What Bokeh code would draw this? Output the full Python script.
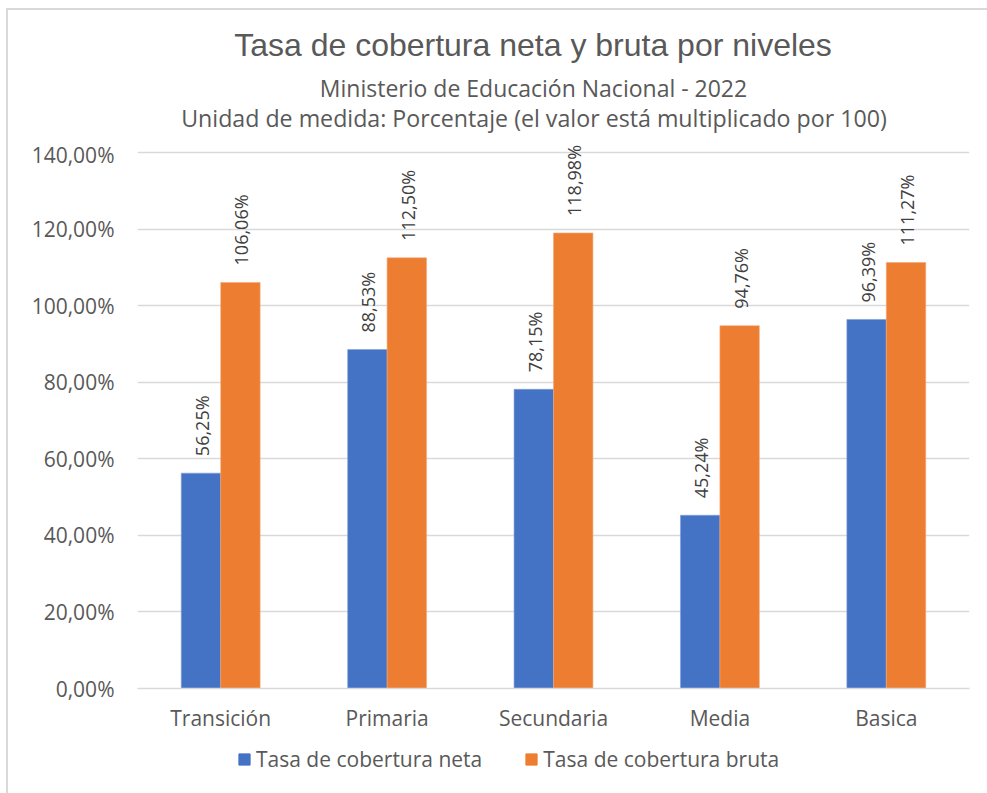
import math
from bokeh.plotting import figure
from bokeh.layouts import column
from bokeh.core.properties import value
from bokeh.models import (ColumnDataSource, FactorRange, Range1d, FixedTicker, Label,
                          Legend, LegendItem)
from bokeh.transform import dodge
from bokeh.embed import file_html
from bokeh.resources import INLINE

categories = ["Transición", "Primaria", "Secundaria", "Media", "Basica"]
neta = [56.25, 88.53, 78.15, 45.24, 96.39]
bruta = [106.06, 112.50, 118.98, 94.76, 111.27]
neta_labels = ["56,25%", "88,53%", "78,15%", "45,24%", "96,39%"]
bruta_labels = ["106,06%", "112,50%", "118,98%", "94,76%", "111,27%"]
y_ticks = [0, 20, 40, 60, 80, 100, 120, 140]
y_tick_labels = ["0,00%", "20,00%", "40,00%", "60,00%", "80,00%", "100,00%", "120,00%", "140,00%"]
title_text = "Tasa de cobertura neta y bruta por niveles"
subtitle_1 = "Ministerio de Educación Nacional - 2022"
subtitle_2 = "Unidad de medida: Porcentaje (el valor está multiplicado por 100)"
series_names = ["Tasa de cobertura neta", "Tasa de cobertura bruta"]

FONT = "Open Sans"
GREY = "#595959"
BLUE = "#4472C4"
ORANGE = "#ED7D31"
W = 979
# page x of the plot frame (frames of the stacked figures are aligned)
FX0, FX1 = 137, 969
# frame: 536 px for 0..140 %, plus 12 px of headroom for the rotated labels
FRAME_H = 548
Y_END = 140 * FRAME_H / 536

# ---------- title block (page coordinates) ----------
tf = figure(width=W, height=130, x_range=Range1d(FX0, FX1), y_range=Range1d(140, 10),
            x_axis_type=None, y_axis_type=None, min_border=0,
            output_backend="svg", toolbar_location=None)
tf.outline_line_color = None
tf.grid.visible = False
tf.add_layout(Label(x=532.5, y=44, text=title_text, text_align="center", text_baseline="middle",
                    text_font="Liberation Sans", text_font_size="32px", text_color=GREY))
tf.add_layout(Label(x=533, y=87, text=subtitle_1, text_align="center", text_baseline="middle",
                    text_font=FONT, text_font_size="23px", text_color=GREY))
tf.add_layout(Label(x=533.5, y=117, text=subtitle_2, text_align="center", text_baseline="middle",
                    text_font=FONT, text_font_size="23.2px", text_color=GREY))

# ---------- main chart ----------
src = ColumnDataSource(dict(cat=categories, neta=neta, bruta=bruta,
                            neta_lbl=neta_labels, bruta_lbl=bruta_labels))

p = figure(x_range=FactorRange(factors=categories), y_range=Range1d(0, Y_END),
           width=W, height=FRAME_H + 52, output_backend="svg", toolbar_location=None,
           min_border_left=129, min_border_right=18, min_border_top=0,
           min_border_bottom=52)
p.outline_line_color = None

bw = 0.237
r1 = p.vbar(x=dodge("cat", -bw / 2, range=p.x_range), top="neta", width=bw, source=src,
            fill_color=BLUE, line_color="#7F9FD8", line_width=0.6)
r2 = p.vbar(x=dodge("cat", bw / 2, range=p.x_range), top="bruta", width=bw, source=src,
            fill_color=ORANGE, line_color="#F3A878", line_width=0.6)

for ycol, lcol, off in (("neta", "neta_lbl", -bw / 2), ("bruta", "bruta_lbl", bw / 2)):
    p.text(x=dodge("cat", off, range=p.x_range), y=ycol, text=lcol, source=src,
           angle=math.pi / 2, text_align="left", text_baseline="middle",
           x_offset=1, y_offset=-17,
           text_font=value(FONT), text_font_size="18px", text_color="#404040")

p.xaxis.axis_line_color = "#D9D9D9"
p.xaxis.axis_line_width = 1.5
p.xaxis.major_tick_line_color = None
p.xaxis.minor_tick_line_color = None
p.xaxis.major_label_text_font = FONT
p.xaxis.major_label_text_font_size = "21px"
p.xaxis.major_label_text_color = GREY
p.xaxis.major_label_standoff = 9

p.yaxis.ticker = FixedTicker(ticks=y_ticks)
p.yaxis.major_label_overrides = {t: l for t, l in zip(y_ticks, y_tick_labels)}
p.yaxis.axis_line_color = None
p.yaxis.major_tick_line_color = None
p.yaxis.minor_tick_line_color = None
p.yaxis.major_label_text_font = FONT
p.yaxis.major_label_text_font_size = "21px"
p.yaxis.major_label_text_color = GREY
p.yaxis.major_label_standoff = 17

p.xgrid.grid_line_color = None
p.ygrid.grid_line_color = "#D9D9D9"
p.ygrid.grid_line_width = 1.5

# ---------- legend strip ----------
lf = figure(width=W, height=38, x_range=Range1d(0, 1), y_range=Range1d(0, 1),
            x_axis_type=None, y_axis_type=None, min_border=0,
            output_backend="svg", toolbar_location=None)
lf.outline_line_color = None
lf.grid.visible = False
# invisible stand-in renderers (below the strip's range) that only give the legend its swatches
dummy = ColumnDataSource(dict(x=[0.5], top=[-2], bottom=[-3]))
d1 = lf.vbar(x="x", top="top", bottom="bottom", width=0.1, source=dummy,
             fill_color=BLUE, line_color=BLUE)
d2 = lf.vbar(x="x", top="top", bottom="bottom", width=0.1, source=dummy,
             fill_color=ORANGE, line_color=ORANGE)
legend = Legend(items=[LegendItem(label=series_names[0], renderers=[d1]),
                       LegendItem(label=series_names[1], renderers=[d2])],
                orientation="horizontal", location="left",
                label_text_font=FONT, label_text_font_size="21px", label_text_color=GREY,
                glyph_width=14, glyph_height=14, label_standoff=5, spacing=42,
                border_line_color=None, background_fill_alpha=0, padding=0, margin=100)
lf.add_layout(legend, "center")

layout = column(tf, p, lf, spacing=0,
                styles={"margin-left": "6px", "margin-top": "8px", "padding-bottom": "17px",
                        "border-left": "2px solid #D9D9D9", "border-top": "2px solid #D9D9D9"})

open("out.html", "w").write(file_html(layout, INLINE))
